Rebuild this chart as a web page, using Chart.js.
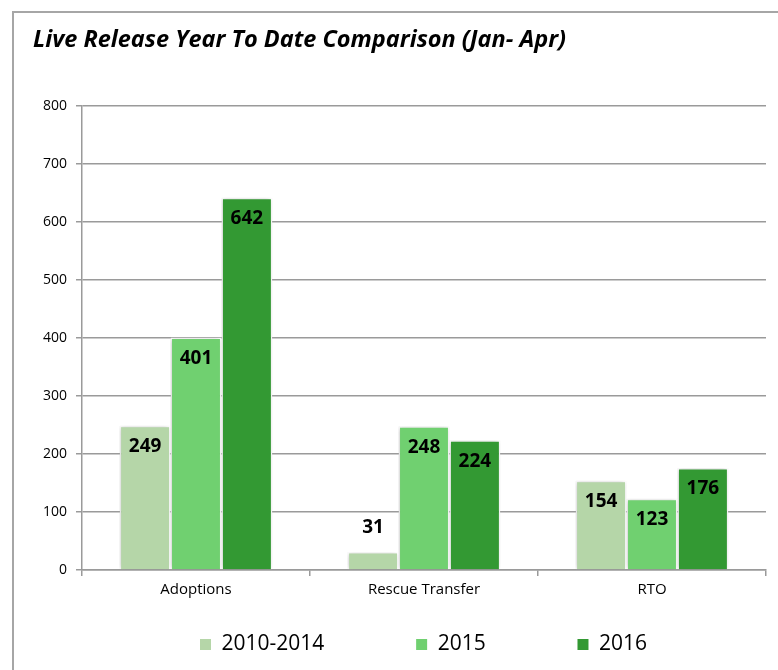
<!DOCTYPE html>
<html>
<head>
<meta charset="utf-8">
<script src="https://cdn.jsdelivr.net/npm/chart.js@4.4.1/dist/chart.umd.min.js"></script>
<style>
  html, body { margin: 0; padding: 0; background: #ffffff; overflow: hidden; }
  #frame { position: absolute; left: 12px; top: 11px; width: 800px; height: 700px; border: 2px solid #a6a6a6; box-sizing: border-box; }
  #c { position: absolute; left: 0; top: 0; }
</style>
</head>
<body>
<div id="frame"></div>
<canvas id="c" width="778" height="670"></canvas>
<script>
const titleText = 'Live Release Year To Date Comparison (Jan- Apr)';
const categories = ['Adoptions', 'Rescue Transfer', 'RTO'];
const seriesNames = ['2010-2014', '2015', '2016'];
const values2010_2014 = [249, 31, 154];
const values2015 = [401, 248, 123];
const values2016 = [642, 224, 176];
const yTicks = [0, 100, 200, 300, 400, 500, 600, 700, 800];
const colors = ['#b5d6a8', '#70d070', '#339933'];

const FONT = "'Open Sans', 'DejaVu Sans', sans-serif";

const legendSpacer = '               ';

const shadowPlugin = {
  id: 'barShadow',
  beforeDatasetsDraw(chart) {
    const ctx = chart.ctx;
    ctx.save();
    ctx.shadowColor = 'rgba(0,0,0,0.22)';
    ctx.shadowBlur = 5;
    ctx.shadowOffsetX = -1;
    ctx.shadowOffsetY = 0;
  },
  afterDatasetsDraw(chart) {
    chart.ctx.restore();
  }
};

const labelPlugin = {
  id: 'barLabels',
  afterDatasetsDraw(chart) {
    const ctx = chart.ctx;
    ctx.save();
    ctx.shadowColor = 'transparent';
    ctx.font = "bold 19px " + FONT;
    ctx.fillStyle = '#000000';
    ctx.textAlign = 'center';
    ctx.textBaseline = 'middle';
    chart.data.datasets.forEach((ds, di) => {
      const meta = chart.getDatasetMeta(di);
      meta.data.forEach((bar, i) => {
        const h = bar.base - bar.y;
        const txt = String(ds.data[i]);
        const y = h > 40 ? bar.y + 21 : bar.y - 24;
        ctx.fillText(txt, bar.x, y);
      });
    });
    ctx.restore();
  }
};

const legendShift = {
  id: 'legendShift',
  afterLayout(chart) {
    if (chart.legend) {
      chart.legend.left += 24;
      chart.legend.right += 24;
    }
  }
};

new Chart(document.getElementById('c'), {
  type: 'bar',
  data: {
    labels: categories,
    datasets: [
      { label: seriesNames[0], data: values2010_2014, backgroundColor: colors[0] },
      { label: seriesNames[1], data: values2015, backgroundColor: colors[1] },
      { label: seriesNames[2], data: values2016, backgroundColor: colors[2] }
    ].map(d => Object.assign(d, {
      borderColor: '#ffffff',
      borderWidth: 1.5,
      borderSkipped: 'bottom',
      categoryPercentage: 0.67,
      barPercentage: 1.0
    }))
  },
  options: {
    responsive: false,
    animation: false,
    events: [],
    layout: { padding: { left: 33, right: 12, top: 0, bottom: 5 } },
    plugins: {
      title: {
        display: true,
        text: titleText,
        align: 'start',
        color: '#000000',
        font: { family: FONT, size: 23.5, weight: 'bold', style: 'italic', lineHeight: 1.2 },
        padding: { top: 26, bottom: 52 }
      },
      legend: {
        display: true,
        position: 'bottom',
        align: 'center',
        labels: {
          color: '#000000',
          font: { family: FONT, size: 21 },
          boxWidth: 11,
          boxHeight: 11,
          padding: 10,
          generateLabels(chart) {
            return chart.data.datasets.map((ds, i) => ({
              text: ds.label + (i < chart.data.datasets.length - 1 ? legendSpacer : ''),
              fillStyle: ds.backgroundColor,
              strokeStyle: ds.backgroundColor,
              lineWidth: 0,
              hidden: false,
              datasetIndex: i,
              fontColor: '#000000'
            }));
          }
        }
      },
      tooltip: { enabled: false }
    },
    scales: {
      x: {
        grid: {
          display: true,
          drawOnChartArea: false,
          drawTicks: true,
          tickLength: 6,
          color: '#9a9a9a',
          lineWidth: 1.5,
          offset: true
        },
        border: { display: true, color: '#9a9a9a', width: 1.5 },
        ticks: {
          color: '#000000',
          font: { family: FONT, size: 15 },
          padding: 5,
          maxRotation: 0
        },
        afterFit(scale) { scale.height = 54; }
      },
      y: {
        min: 0,
        max: 800,
        afterBuildTicks(scale) { scale.ticks = yTicks.map(v => ({ value: v })); },
        grid: {
          color: '#9a9a9a',
          lineWidth: 1.5,
          drawTicks: true,
          tickLength: 6
        },
        border: { display: true, color: '#9a9a9a', width: 1.5 },
        ticks: {
          color: '#000000',
          font: { family: FONT, size: 14 },
          padding: 9
        },
        afterFit(scale) { scale.width = 49; }
      }
    }
  },
  plugins: [shadowPlugin, labelPlugin, legendShift]
});
</script>
</body>
</html>
